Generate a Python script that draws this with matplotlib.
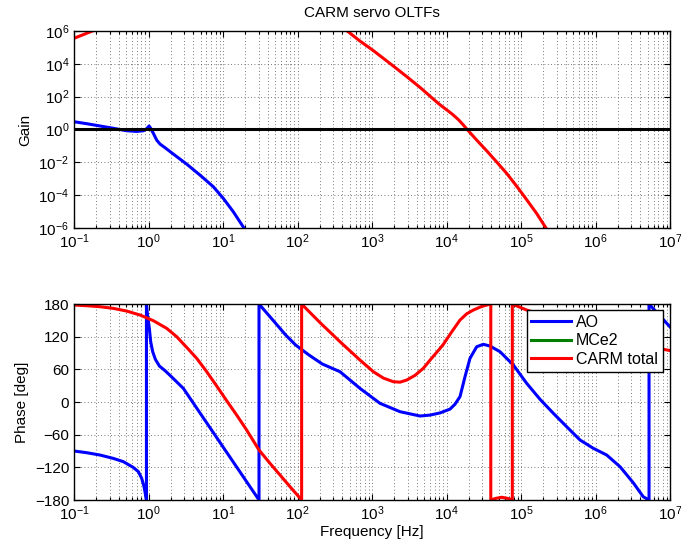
import matplotlib
matplotlib.use("Agg")
import matplotlib.pyplot as plt
import numpy as np
from matplotlib.ticker import FixedLocator, NullLocator, NullFormatter

plt.rcParams['font.family'] = ['Liberation Sans', 'DejaVu Sans']
plt.rcParams['mathtext.fontset'] = 'custom'
plt.rcParams['mathtext.rm'] = 'Liberation Sans'
plt.rcParams['mathtext.it'] = 'Liberation Sans'
plt.rcParams['mathtext.default'] = 'regular'

# values, kept as decades (log10)
# --- gain ---
ao_gain_logf = [-1.0, -0.830, -0.651, -0.472, -0.293, -0.159, -0.069, -0.025,
                0.007, 0.029, 0.065, 0.110, 0.154, 0.221, 0.333, 0.512,
                0.691, 0.870, 1.004, 1.139, 1.282, 1.40]
ao_gain_log = [0.47, 0.35, 0.21, 0.07, -0.08, -0.12, -0.08, 0.04,
               0.21, 0.07, -0.24, -0.65, -0.89, -1.11, -1.50, -2.11,
               -2.78, -3.49, -4.20, -5.02, -6.01, -7.5]

carm_gain_logf = [-1.0, -0.75, -0.5, 1.0, 2.0, 2.660, 2.839, 3.018, 3.152,
                  3.286, 3.465, 3.644, 3.740, 3.830, 3.913, 4.000, 4.080,
                  4.159, 4.220, 4.271, 4.340, 4.405, 4.539, 4.673, 4.808,
                  4.942, 5.076, 5.210, 5.336, 5.5]
carm_gain_log = [5.55, 6.0, 6.5, 9.0, 8.0, 6.02, 5.38, 4.80, 4.33,
                 3.86, 3.22, 2.56, 2.18, 1.82, 1.50, 1.20, 0.92,
                 0.60, 0.30, 0.03, -0.32, -0.65, -1.30, -1.98, -2.68,
                 -3.46, -4.28, -5.12, -6.01, -7.0]

unity = 1.0

# --- phase (deg), wrapped into [-180, 180] as in the picture ---
ao_phase_logf = [-1.0, -0.830, -0.651, -0.472, -0.338, -0.204, -0.136, -0.092,
                 -0.060, -0.028, -0.028, -0.016, 0.011, 0.029, 0.056, 0.092,
                 0.146, 0.222, 0.311, 0.467, 1.483, 1.483, 1.572, 1.707,
                 1.841, 1.975, 2.154, 2.333, 2.570, 2.839, 3.107, 3.376,
                 3.644, 3.779, 3.913, 4.047, 4.114, 4.181, 4.248, 4.315,
                 4.405, 4.494, 4.584, 4.718, 4.897, 5.076, 5.255, 5.434,
                 5.613, 5.792, 5.970, 6.150, 6.330, 6.510, 6.640, 6.718,
                 6.718, 7.0]
ao_phase = [-90.0, -93.1, -97.4, -103.6, -109.6, -120.2, -128.0, -140.1,
            -155.5, -180, 180, 162.9, 135.3, 110.8, 92.4, 78.4,
            66.1, 57.6, 46.0, 25.1, -180, 180, 165.9, 144.5,
            123.1, 104.7, 86.3, 69.8, 55.7, 25, -2.4, -17.8,
            -25.7, -24, -20, -13, -4, 10, 46.5, 80.3,
            101.6, 106, 102.8, 92.4, 68, 34.3, 5, -20.8,
            -45.4, -69.8, -85, -97.4, -119, -149, -174, -180,
            180, 138]

carm_phase_logf = [-1.0, -0.830, -0.651, -0.472, -0.293, -0.114, 0.065, 0.244,
                   0.378, 0.512, 0.647, 0.781, 0.915, 1.049, 1.183, 1.317,
                   1.483, 1.630, 1.765, 1.899, 2.055, 2.055, 2.301, 2.570,
                   2.839, 3.018, 3.152, 3.286, 3.376, 3.466, 3.577, 3.689,
                   3.779, 3.913, 3.957, 4.07, 4.181, 4.270, 4.360, 4.470,
                   4.575, 4.594, 4.594, 4.66, 4.74, 4.82, 4.883, 4.883,
                   5.076, 5.5, 6.0, 6.5, 6.906, 7.0]
carm_phase = [178.2, 176.9, 175.1, 172.0, 167.1, 159.8, 149.4, 135.3,
              120.0, 100.4, 80.2, 55.7, 29.4, 2.4, -23.9, -51.4,
              -88.2, -112.6, -134.1, -155.5, -180, 180, 146, 110.8,
              77, 55.7, 44, 37.3, 36.5, 40.4, 49, 62,
              77, 98.5, 106, 129, 150.6, 162, 169, 175.5,
              179.5, 180, -180, -177, -175, -177, -180, 180,
              169, 150, 128, 110, 97, 94.5]

mce2_logf = []
mce2_phase = []

f_lim = (1e-1, 1e7)
f_major = 10.0 ** np.arange(-1, 8)
f_minor = [m * d for d in 10.0 ** np.arange(-1, 7) for m in range(2, 10)]

fig = plt.figure(figsize=(6.81, 5.52), dpi=100)
ax1 = fig.add_axes([0.1087, 0.587, 0.8752, 0.357])
ax2 = fig.add_axes([0.1087, 0.0942, 0.8752, 0.355])

lw = 2.2
fs = 11
grid_kw = dict(color='0.3', linestyle=(0, (1, 3)), linewidth=0.6)

# gain
ax1.loglog(10 ** np.array(ao_gain_logf), 10 ** np.array(ao_gain_log),
           color='#0000ff', lw=lw)
ax1.loglog(10 ** np.array(carm_gain_logf), 10 ** np.array(carm_gain_log),
           color='#ff0000', lw=lw)
ax1.axhline(unity, color='k', lw=lw)
ax1.set_xlim(*f_lim)
ax1.set_ylim(1e-6, 1e6)
ax1.set_yticks([1e-6, 1e-4, 1e-2, 1e0, 1e2, 1e4, 1e6])
ax1.yaxis.set_minor_locator(NullLocator())
ax1.set_ylabel('Gain', fontsize=fs)
ax1.set_title('CARM servo OLTFs', fontsize=fs, pad=10)

# phase
ax2.semilogx(10 ** np.array(ao_phase_logf), ao_phase, color='#0000ff', lw=lw, label='AO')
ax2.semilogx(mce2_logf, mce2_phase, color='#008000', lw=lw, label='MCe2')
ax2.semilogx(10 ** np.array(carm_phase_logf), carm_phase, color='#ff0000', lw=lw,
             label='CARM total')
ax2.set_xlim(*f_lim)
ax2.set_ylim(-180, 180)
ax2.set_yticks(np.arange(-180, 181, 60))
ax2.set_ylabel('Phase [deg]', fontsize=fs)
ax2.set_xlabel('Frequency [Hz]', fontsize=fs, labelpad=1)

leg = ax2.legend(loc='upper right', bbox_to_anchor=(0.988, 0.97),
                 borderaxespad=0, fontsize=fs + 0.5, fancybox=False, framealpha=1,
                 edgecolor='k', handlelength=2.5, handletextpad=0.3,
                 labelspacing=0.22, borderpad=0.3)
leg.get_frame().set_linewidth(1.0)

for ax in (ax1, ax2):
    ax.xaxis.set_major_locator(FixedLocator(f_major))
    ax.xaxis.set_minor_locator(FixedLocator(f_minor))
    ax.xaxis.set_minor_formatter(NullFormatter())
    ax.grid(True, which='major', axis='both', **grid_kw)
    ax.grid(True, which='minor', axis='x', **grid_kw)
    ax.tick_params(which='both', direction='in', top=True, right=True,
                   labelsize=fs, width=0.8)
    ax.tick_params(which='major', length=4)
    ax.tick_params(which='minor', length=2)
    for s in ax.spines.values():
        s.set_linewidth(1.0)

fig.savefig('out.png', dpi=100)
